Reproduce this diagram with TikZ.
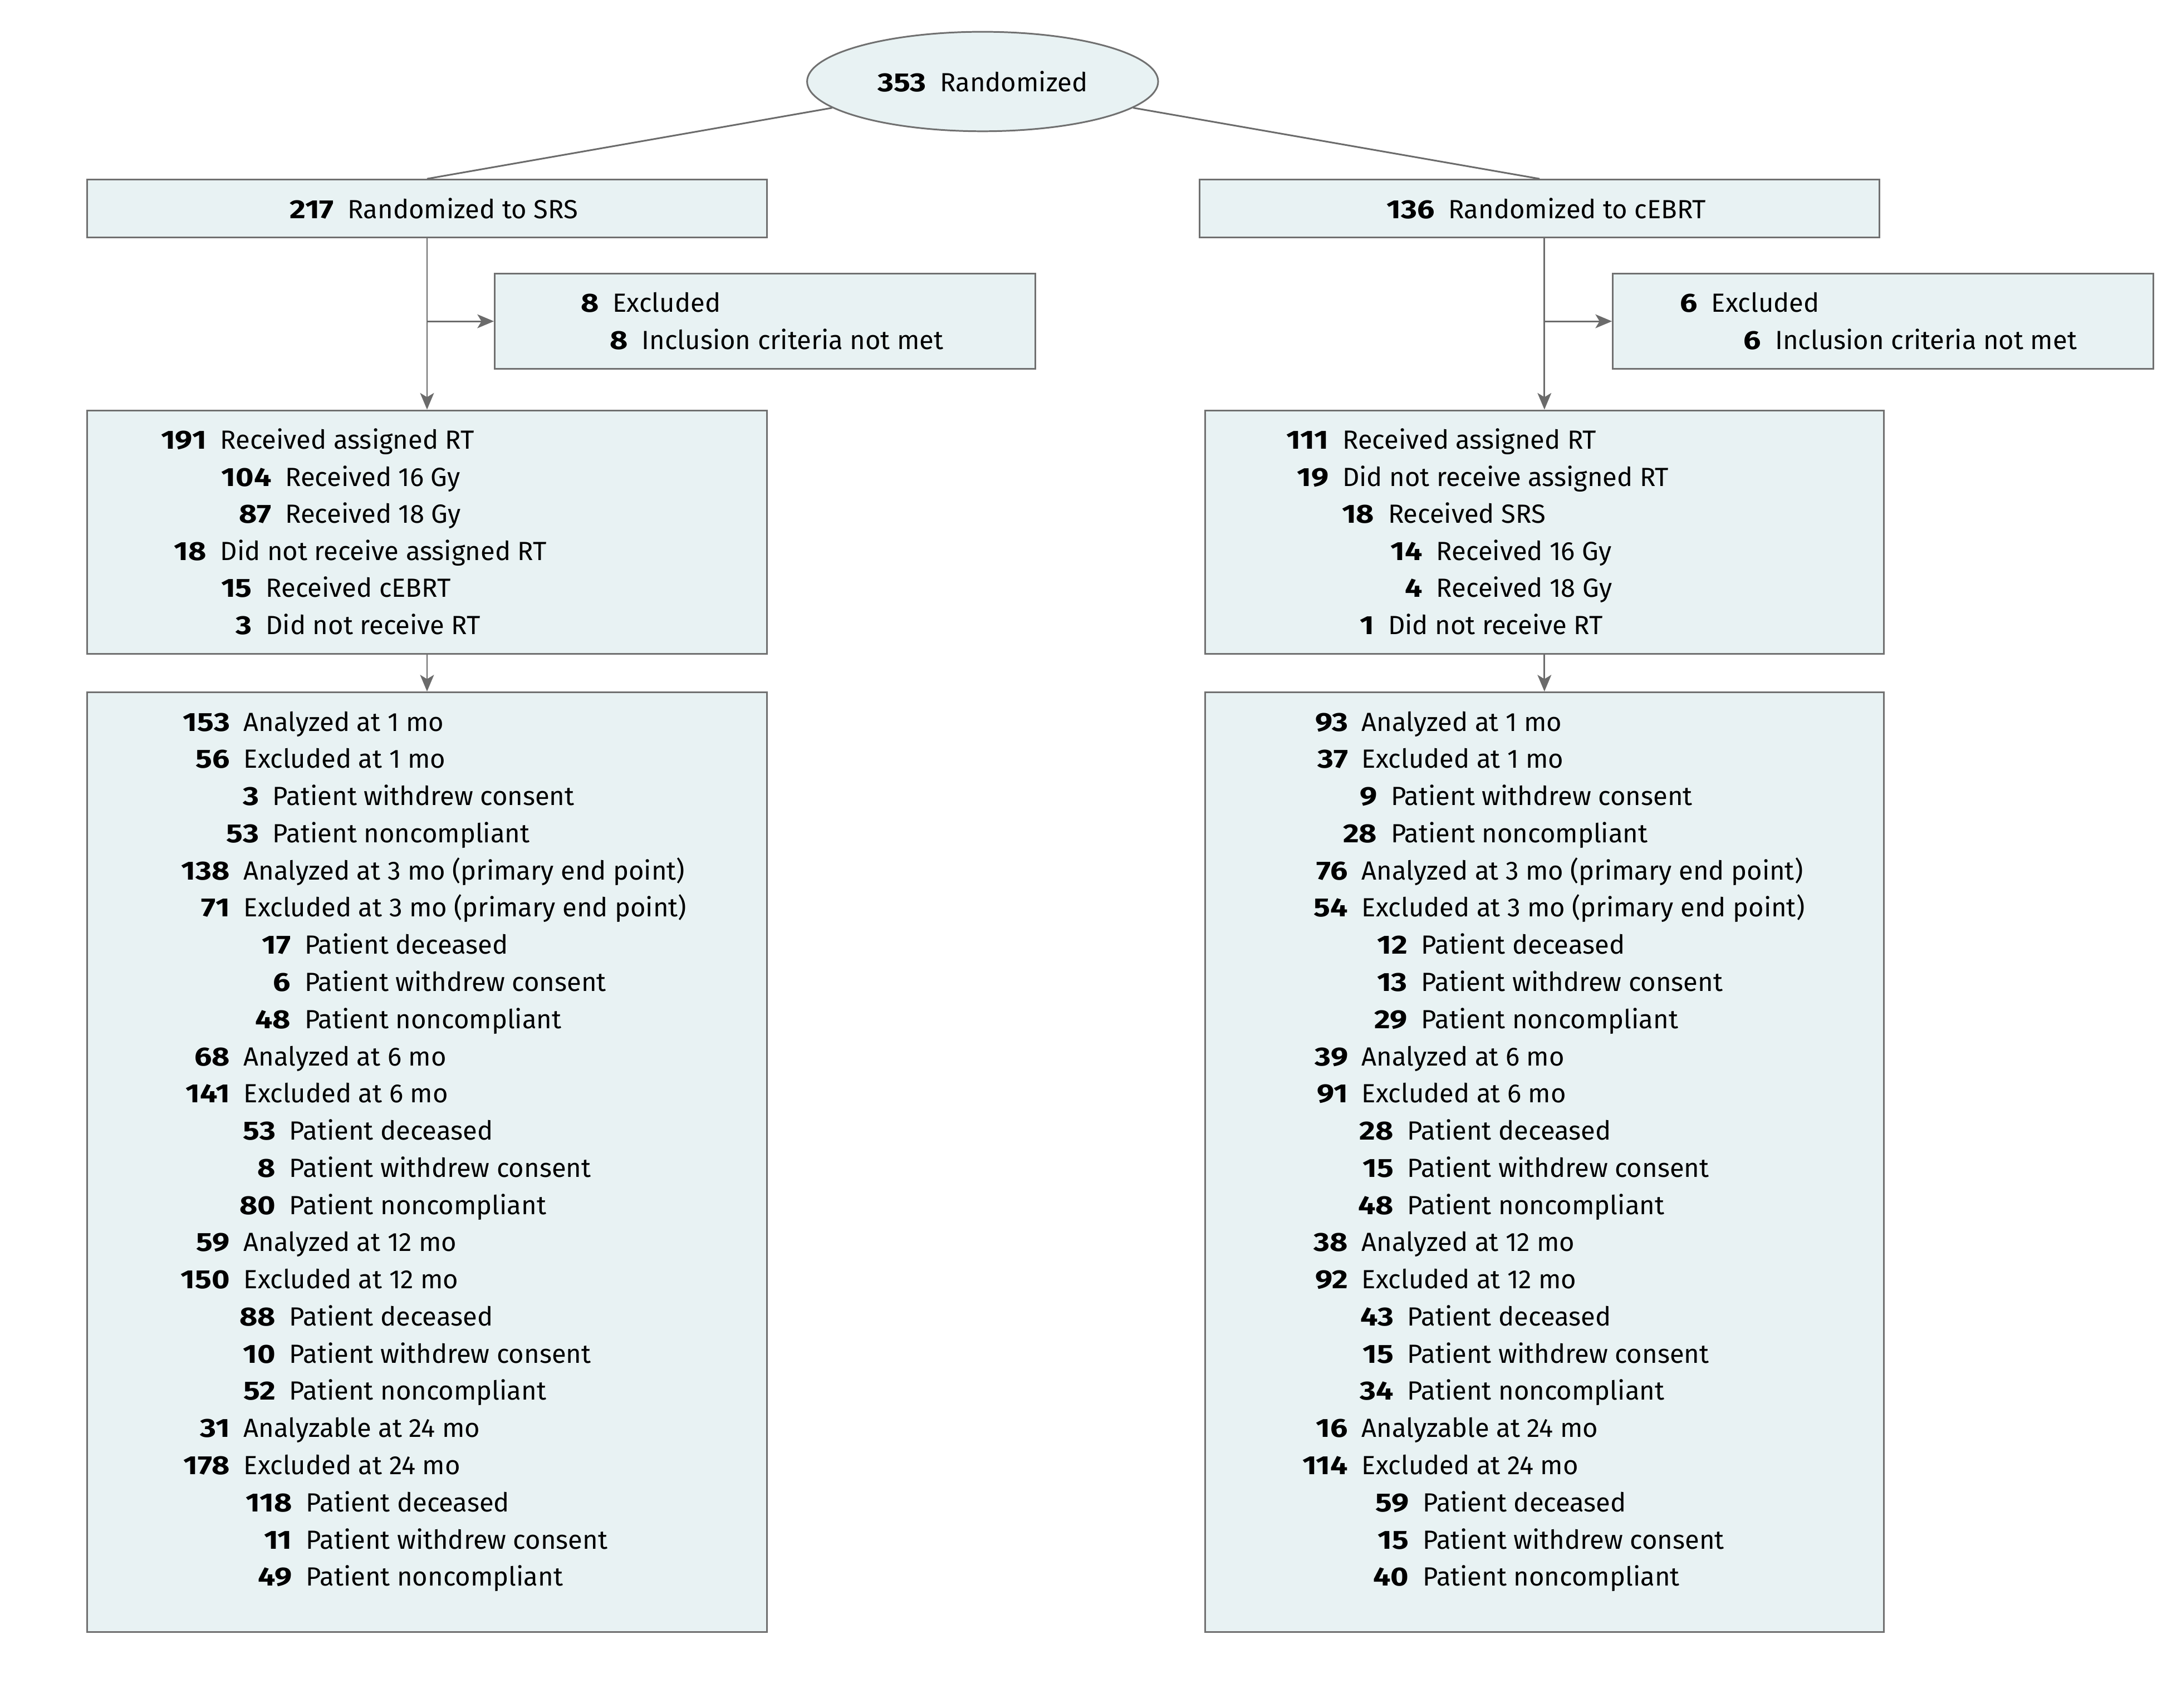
\documentclass[tikz,border=0pt]{standalone}
\usepackage{fontspec}
\setmainfont{Fira Sans}[BoldFeatures={FakeStretch=1.18}]
\usetikzlibrary{arrows.meta}
\usetikzlibrary{shapes.geometric}

\definecolor{boxfill}{HTML}{E8F2F3}
\definecolor{boxline}{HTML}{707070}
\definecolor{arrline}{HTML}{6B6B6B}

\tikzset{
  box/.style={draw=boxline,fill=boxfill,line width=0.6pt,inner sep=0pt},
  line/.style={draw=arrline,line width=0.6pt},
  arr/.style={line,-{Stealth[length=6pt,width=5pt,inset=1.5pt]}},
  row/.style={inner sep=0pt,anchor=base west},
}

% bold count hanging left of the label
\newcommand{\cnt}[2]{\llap{\textbf{#1}}\hspace{5pt}#2}

\begin{document}
\begin{tikzpicture}[x=0.5pt,y=-0.5pt,font=\fontsize{9.5}{11}\selectfont]
  \useasboundingbox (0,0) rectangle (1568,1236);

  % boxes
  \node[box,ellipse,minimum width=127pt,minimum height=36pt] (rand) at (711,59) {\textbf{353}\hspace{5pt}Randomized};
  \node[box,minimum width=246pt,minimum height=21pt] (srs) at (309,151) {\hspace{5pt}\textbf{217}\hspace{5pt}Randomized to SRS};
  \node[box,minimum width=246pt,minimum height=21pt] (ebrt) at (1114,151) {\hspace{5pt}\textbf{136}\hspace{5pt}Randomized to cEBRT};
  \node[box,minimum width=195.5pt,minimum height=34.5pt] (exclA) at (553.5,232.5) {};
  \node[box,minimum width=195.5pt,minimum height=34.5pt] (exclB) at (1362.5,232.5) {};
  \node[box,minimum width=246pt,minimum height=88pt] (recvA) at (309,385) {};
  \node[box,minimum width=245.5pt,minimum height=88pt] (recvB) at (1117.5,385) {};
  \node[box,minimum width=246pt,minimum height=340pt] (analA) at (309,841) {};
  \node[box,minimum width=245.5pt,minimum height=340pt] (analB) at (1117.5,841) {};

  % connectors
  \draw[line] (rand) -- (srs.north);
  \draw[line] (rand) -- (ebrt.north);
  \draw[arr] (srs.south) -- (recvA.north);
  \draw[arr] (srs.south |- exclA.west) -- (exclA.west);
  \draw[arr] (recvB.north |- ebrt.south) -- (recvB.north);
  \draw[arr] (recvB.north |- exclB.west) -- (exclB.west);
  \draw[arr] (recvA.south) -- (analA.north);
  \draw[arr] (recvB.south) -- (analB.north);

  % excluded
  \node[row] (xA1) at (433,226) {\cnt{8}{Excluded}};
  \node[row] (xA2) at (454,253) {\cnt{8}{Inclusion criteria not met}};
  \node[row] (xB1) at (1228,226) {\cnt{6}{Excluded}};
  \node[row] (xB2) at (1274,253) {\cnt{6}{Inclusion criteria not met}};

  % received
  \foreach \xx/\nn/\lbl [count=\i] in {149/191/Received assigned RT,
      196/104/Received 16 Gy, 196/87/Received 18 Gy,
      149/18/Did not receive assigned RT,
      182/15/Received cEBRT, 182/3/Did not receive RT}
    \node[row] (rA\i) at (\xx,{325+26.8*(\i-1)}) {\cnt{\nn}{\lbl}};
  \foreach \xx/\nn/\lbl [count=\i] in {961/111/Received assigned RT,
      961/19/Did not receive assigned RT, 994/18/Received SRS,
      1029/14/Received 16 Gy, 1029/4/Received 18 Gy,
      994/1/Did not receive RT}
    \node[row] (rB\i) at (\xx,{325+26.8*(\i-1)}) {\cnt{\nn}{\lbl}};

  % analyzed
  \foreach \xx/\nn/\lbl [count=\i] in {166/153/Analyzed at 1 mo,
      166/56/Excluded at 1 mo, 187/3/Patient withdrew consent,
      187/53/Patient noncompliant,
      166/138/Analyzed at 3 mo (primary end point),
      166/71/Excluded at 3 mo (primary end point),
      210/17/Patient deceased, 210/6/Patient withdrew consent,
      210/48/Patient noncompliant,
      166/68/Analyzed at 6 mo, 166/141/Excluded at 6 mo,
      199/53/Patient deceased, 199/8/Patient withdrew consent,
      199/80/Patient noncompliant,
      166/59/Analyzed at 12 mo, 166/150/Excluded at 12 mo,
      199/88/Patient deceased, 199/10/Patient withdrew consent,
      199/52/Patient noncompliant,
      166/31/Analyzable at 24 mo, 166/178/Excluded at 24 mo,
      211/118/Patient deceased, 211/11/Patient withdrew consent,
      211/49/Patient noncompliant}
    \node[row] (aA\i) at (\xx,{529+26.9*(\i-1)}) {\cnt{\nn}{\lbl}};
  \foreach \xx/\nn/\lbl [count=\i] in {975/93/Analyzed at 1 mo,
      975/37/Excluded at 1 mo, 996/9/Patient withdrew consent,
      996/28/Patient noncompliant,
      975/76/Analyzed at 3 mo (primary end point),
      975/54/Excluded at 3 mo (primary end point),
      1018/12/Patient deceased, 1018/13/Patient withdrew consent,
      1018/29/Patient noncompliant,
      975/39/Analyzed at 6 mo, 975/91/Excluded at 6 mo,
      1008/28/Patient deceased, 1008/15/Patient withdrew consent,
      1008/48/Patient noncompliant,
      975/38/Analyzed at 12 mo, 975/92/Excluded at 12 mo,
      1008/43/Patient deceased, 1008/15/Patient withdrew consent,
      1008/34/Patient noncompliant,
      975/16/Analyzable at 24 mo, 975/114/Excluded at 24 mo,
      1019/59/Patient deceased, 1019/15/Patient withdrew consent,
      1019/40/Patient noncompliant}
    \node[row] (aB\i) at (\xx,{529+26.9*(\i-1)}) {\cnt{\nn}{\lbl}};
\end{tikzpicture}
\end{document}
